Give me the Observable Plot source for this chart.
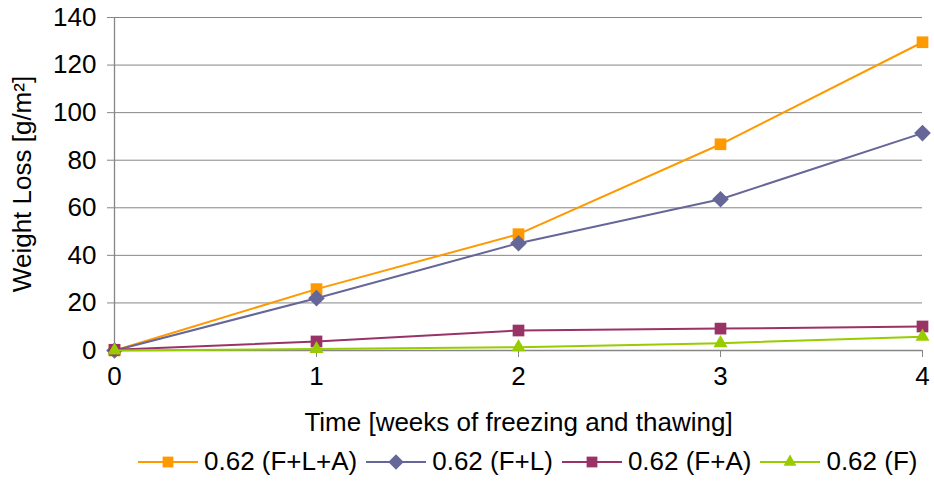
<!DOCTYPE html>
<html>
<head>
<meta charset="utf-8">
<script src="https://cdn.jsdelivr.net/npm/d3@7"></script>
<script src="https://cdn.jsdelivr.net/npm/@observablehq/plot@0.6"></script>
<style>
  body { margin: 0; background: #fff; font-family: "Liberation Sans", Arial, sans-serif; }
  #legend { display: flex; align-items: center; height: 43px; padding-left: 138px; box-sizing: border-box; font-size: 26px; color: #000; white-space: nowrap; }
  .item { display: flex; align-items: center; margin-right: 9px; }
  .item svg { margin-right: 6px; }
</style>
</head>
<body>
<div id="chart"></div>
<div id="legend"></div>
<script>
const weeks = [0, 1, 2, 3, 4];
const seriesNames = ["0.62 (F+L+A)", "0.62 (F+L)", "0.62 (F+A)", "0.62 (F)"];
const valuesFLA = [0, 25.8, 48.9, 86.7, 129.6];
const valuesFL  = [0, 22.0, 45.1, 63.6, 91.4];
const valuesFA  = [0.3, 3.8, 8.4, 9.2, 10.1];
const valuesF   = [0, 0.6, 1.4, 3.1, 5.8];
const colors  = ["#FF9900", "#666699", "#993366", "#99CC00"];
const symbols = ["square", "diamond2", "square", "triangle"];
const radii   = [6.6, 7.5, 6.6, 5.2];
const yTicks = [0, 20, 40, 60, 80, 100, 120, 140];
const xLabel = "Time [weeks of freezing and thawing]";
const yLabel = "Weight Loss [g/m²]";

const allValues = [valuesFLA, valuesFL, valuesFA, valuesF];
const rows = [];
seriesNames.forEach((s, i) => weeks.forEach((w, j) => rows.push({series: s, idx: i, week: w, value: allValues[i][j]})));

const gray = "#868686";
const FONT = 26;

const marks = [
  Plot.gridY(yTicks, {stroke: gray, strokeOpacity: 1, strokeWidth: 1}),
  Plot.ruleX([0], {stroke: gray, strokeWidth: 1.3}),
  Plot.ruleY([0], {stroke: gray, strokeWidth: 1.3}),
  Plot.axisX(weeks, {tickSize: 7, tickPadding: 9, stroke: gray, fill: "#000", fontSize: FONT, label: null, tickFormat: d => String(d)}),
  Plot.axisY(yTicks, {tickSize: 7, tickPadding: 11, stroke: gray, fill: "#000", fontSize: FONT, label: null}),
  Plot.text([xLabel], {frameAnchor: "bottom", dy: 72, text: d => d, fontSize: FONT, fill: "#000", lineAnchor: "middle", textAnchor: "middle"}),
  Plot.text([yLabel], {frameAnchor: "left", dx: -92, rotate: -90, text: d => d, fontSize: FONT, fill: "#000", lineAnchor: "middle", textAnchor: "middle"})
];
seriesNames.forEach((s, i) => {
  const data = rows.filter(r => r.idx === i);
  marks.push(Plot.line(data, {x: "week", y: "value", stroke: colors[i], strokeWidth: 2}));
  marks.push(Plot.dot(data, {x: "week", y: "value", symbol: () => symbols[i], r: radii[i], fill: colors[i], stroke: "none"}));
});

const chart = Plot.plot({
  width: 934,
  height: 440,
  marginLeft: 114,
  marginRight: 12,
  marginTop: 17,
  marginBottom: 90,
  style: {fontFamily: '"Liberation Sans", Arial, sans-serif', background: "#fff", overflow: "visible"},
  x: {domain: [0, 4], axis: null},
  y: {domain: [0, 140], axis: null},
  symbol: {type: "identity"},
  marks
});
document.getElementById("chart").appendChild(chart);

// Legend
const legend = d3.select("#legend");
const symMap = {square: d3.symbolSquare, diamond2: d3.symbolDiamond2, triangle: d3.symbolTriangle};
seriesNames.forEach((s, i) => {
  const item = legend.append("div").attr("class", "item");
  const svg = item.append("svg").attr("width", 60).attr("height", 20);
  svg.append("line").attr("x1", 0).attr("x2", 60).attr("y1", 10).attr("y2", 10).attr("stroke", colors[i]).attr("stroke-width", 2);
  svg.append("path")
    .attr("transform", "translate(30,10)")
    .attr("d", d3.symbol(symMap[symbols[i]], Math.PI * radii[i] * radii[i] * 0.85)())
    .attr("fill", colors[i]);
  item.append("span").text(s);
});
</script>
</body>
</html>
